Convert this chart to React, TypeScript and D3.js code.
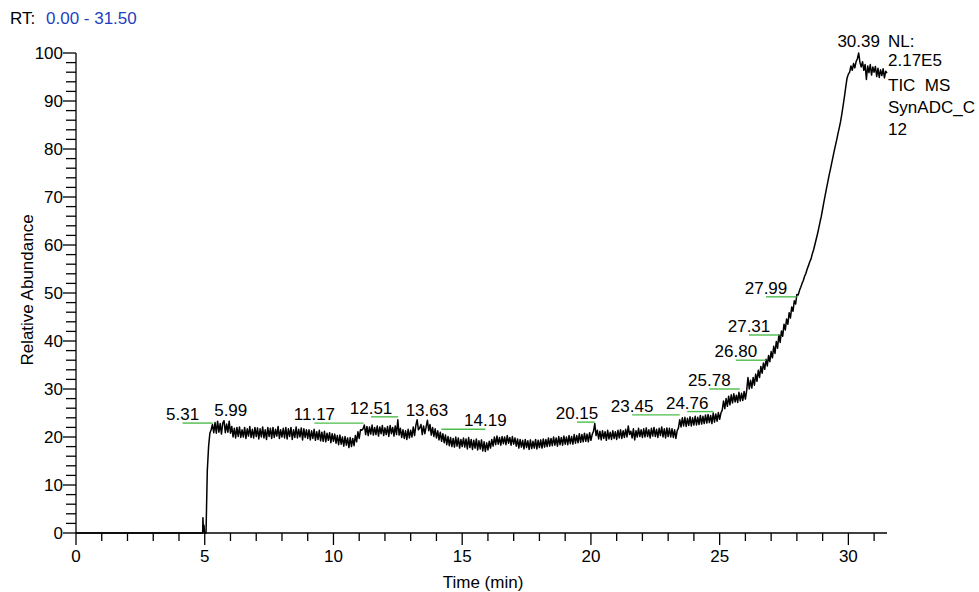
import React from 'react';
import * as d3 from 'd3';

// ---- data ----
const leadTimes = [0, 4.92, 4.93, 4.95, 4.97, 4.99, 5.0];
const leadValues = [0, 0, 3.2, 0.3, 1.6, 0.2, 0];

const gridStep = 0.05;

const segAStart = 5.05; // 5.05 - 13.00
const segA = [
  0, 13, 18, 20.8, 21.5, 22.6, 20.9, 23.0, 20.8, 23.3, 21.0, 22.8, 20.6, 22.9, 23.4, 20.9, 22.7, 21.0, 23.3, 20.8,
  22.2, 20.0, 21.8, 19.8, 22.0, 20.1, 22.1, 19.9, 21.5, 20.0, 22.0, 19.7, 21.7, 20.2, 22.2, 19.9, 21.6, 19.8, 22.0, 20.1,
  21.9, 19.6, 21.7, 20.0, 22.1, 19.8, 21.5, 19.5, 22.0, 20.1, 21.8, 19.7, 22.0, 19.9, 21.6, 20.2, 22.2, 19.7, 21.5, 20.0,
  21.8, 19.8, 22.0, 19.6, 21.7, 20.1, 22.0, 19.5, 21.5, 19.9, 22.1, 19.8, 21.6, 20.0, 21.9, 19.4, 21.7, 19.9, 21.5, 19.7,
  21.5, 19.4, 21.3, 19.7, 21.6, 19.3, 21.1, 19.5, 21.4, 19.2, 21.0, 19.1, 21.2, 19.0, 20.8, 19.3, 20.9, 18.8, 20.7, 19.1,
  20.6, 18.7, 20.3, 18.4, 20.4, 18.5, 20.0, 18.1, 20.1, 18.3, 19.8, 17.8, 19.9, 18.0, 19.7, 18.2, 20.3, 19.0, 21.1, 19.7,
  21.5, 21.4, 21.7, 22.5, 20.5, 22.2, 20.3, 22.1, 20.6, 22.5, 20.4, 22.0, 20.5, 22.3, 20.2, 22.1, 20.7, 22.4, 20.3, 21.9,
  20.5, 22.2, 20.1, 22.4, 20.7, 22.0, 20.2, 22.3, 20.5, 23.6, 20.4, 21.8, 19.9, 21.5, 19.7, 21.3, 19.5, 21.6, 19.8, 21.4,
];

const segBStart = 13.05; // 13.05 - 23.00
const segB = [
  20.0, 22.1, 20.3, 22.4, 23.6, 21.5, 21.9, 22.6, 20.5, 22.3, 20.7, 22.1, 23.5, 21.3, 22.6, 20.4, 22.0, 20.1, 21.7, 19.8,
  21.3, 19.4, 21.0, 19.1, 20.7, 18.8, 20.4, 18.4, 20.1, 18.2, 19.9, 18.0, 19.7, 17.9, 20.0, 18.1, 19.8, 17.7, 19.5, 18.0,
  19.8, 17.9, 19.6, 17.5, 19.9, 17.8, 19.5, 17.4, 19.3, 17.7, 19.6, 17.3, 19.2, 17.5, 19.4, 17.1, 19.0, 17.0, 18.8, 17.3,
  19.1, 17.7, 19.5, 18.1, 20.0, 18.4, 20.2, 18.5, 19.9, 18.3, 20.1, 18.6, 20.0, 18.4, 20.3, 18.7, 19.9, 18.3, 20.1, 18.5,
  19.8, 18.1, 19.6, 17.7, 19.5, 17.9, 19.3, 17.5, 19.5, 17.8, 19.2, 17.4, 19.4, 17.6, 19.1, 17.7, 19.5, 17.5, 19.3, 17.8,
  19.4, 17.7, 19.6, 17.9, 19.5, 18.0, 19.8, 18.1, 19.7, 18.2, 20.0, 18.3, 19.8, 18.1, 20.1, 18.4, 19.9, 18.3, 20.2, 18.5,
  20.0, 18.4, 20.3, 18.6, 20.1, 18.5, 20.5, 18.7, 20.3, 18.8, 20.7, 18.9, 20.5, 19.0, 20.8, 19.1, 20.6, 19.0, 20.9, 19.3,
  20.5, 21.2, 22.8, 20.3, 21.4, 19.6, 21.2, 19.4, 21.3, 19.7, 21.1, 19.3, 21.4, 19.6, 21.0, 19.5, 21.3, 19.7, 21.1, 19.5,
  21.4, 19.8, 21.5, 19.7, 21.3, 19.9, 21.6, 20.0, 22.3, 20.5, 21.2, 19.8, 21.7, 19.4, 21.3, 20.0, 21.8, 20.1, 21.5, 19.9,
  21.7, 20.0, 21.9, 20.1, 21.5, 19.8, 21.8, 20.2, 22.0, 20.1, 21.6, 19.9, 21.8, 20.3, 22.1, 20.0, 21.7, 19.8, 21.9, 20.1,
];

const segCStart = 23.05; // 23.05 - 31.50
const segC = [
  21.8, 20.0, 21.7, 19.9, 21.5, 19.7, 21.3, 21.9, 23.6, 22.1, 24.0, 22.3, 24.1, 22.2, 23.9, 22.4, 24.2, 22.3, 24.0, 22.5,
  24.3, 22.5, 24.1, 22.6, 24.5, 22.7, 24.3, 22.8, 24.6, 22.9, 24.7, 23.0, 24.5, 22.8, 25.0, 23.1, 24.8, 23.3, 25.1, 23.7,
  25.0, 25.6, 27.5, 25.9, 28.0, 26.4, 28.5, 26.7, 28.8, 27.1, 29.0, 27.3, 28.7, 27.2, 29.3, 27.5, 29.1, 27.6, 29.5, 27.9,
  29.7, 32.4, 30.0, 31.8, 30.2, 32.4, 30.8, 33.1, 31.6, 33.9, 32.4, 34.7, 33.3, 35.4, 34.1, 36.2, 34.8, 37.0, 35.7, 37.8,
  36.5, 38.9, 37.4, 39.9, 38.5, 41.3, 39.7, 42.1, 41.0, 43.5, 42.3, 44.6, 43.5, 45.9, 44.8, 47.1, 46.2, 48.4, 47.7, 49.7,
  49.6, 50.5, 51.2, 52.0, 52.6, 53.5, 54.1, 55.0, 55.7, 56.5, 57.1, 58.2, 59.0, 60.1, 61.2, 62.3, 63.5, 64.8, 66.0, 67.5,
  69.0, 70.4, 71.8, 73.1, 74.5, 75.7, 77.0, 78.3, 79.6, 80.8, 82.0, 83.3, 84.5, 85.8, 87.4, 89.2, 91.0, 93.0, 94.8, 95.6,
  96.0, 97.3, 96.4, 97.8, 96.9, 98.2, 98.8, 100, 98.0, 97.1, 98.2, 96.4, 97.6, 94.5, 97.3, 95.9, 97.6, 95.4, 97.1, 96.0,
  97.2, 95.1, 96.8, 94.9, 96.5, 95.3, 96.7, 94.8, 96.2, 95.8,
];

// peak annotations
const peakLabels = ['5.31', '5.99', '11.17', '12.51', '13.63', '14.19', '20.15', '23.45', '24.76', '25.78', '26.80', '27.31', '27.99', '30.39'];
const peakTimes = [5.31, 5.99, 11.17, 12.51, 13.63, 14.19, 20.15, 23.45, 24.76, 25.78, 26.8, 27.31, 27.99, 30.39];
const labelTimes = [4.14, 6.01, 9.26, 11.46, 13.63, 15.9, 19.46, 21.6, 23.74, 24.6, 25.63, 26.14, 26.8, 30.4];
const labelLevels = [22.9, 23.7, 22.9, 24.2, 23.8, 21.6, 23.1, 24.6, 25.3, 30.0, 36.0, 41.25, 49.2, 100.7];

const xMajorTicks = [0, 5, 10, 15, 20, 25, 30];
const yMajorTicks = [0, 10, 20, 30, 40, 50, 60, 70, 80, 90, 100];
const infoLines = ['NL:', '2.17E5', 'TIC  MS', 'SynADC_C', '12'];

// ---- layout ----
const W = 979;
const H = 592;
const FONT = "'Liberation Sans', Arial, sans-serif";
const FS = 17;
const infoY = [47, 66, 91, 113, 135];

export default function App() {
  const x = d3.scaleLinear().domain([0, 31.5]).range([76, 887]);
  const y = d3.scaleLinear().domain([0, 100]).range([533, 53]);

  const pts: [number, number][] = [];
  leadTimes.forEach((t, i) => pts.push([t, leadValues[i]]));
  const addSeg = (start: number, vals: number[]) =>
    vals.forEach((v, i) => pts.push([+(start + i * gridStep).toFixed(3), v]));
  addSeg(segAStart, segA);
  addSeg(segBStart, segB);
  addSeg(segCStart, segC);

  const line = d3
    .line<[number, number]>()
    .x((d) => x(d[0]))
    .y((d) => y(d[1]));

  const xMinor = d3.range(0, 32, 1).filter((t) => t <= 31.5 && t % 5 !== 0);
  const yMinor = d3.range(0, 101, 2).filter((v) => v % 10 !== 0);

  return (
    <svg
      width={W}
      height={H}
      style={{ position: 'absolute', left: 0, top: 0, background: '#fff' }}
      fontFamily={FONT}
      fontSize={FS}
    >
      <rect width={W} height={H} fill="#fff" />
      {/* RT header */}
      <text x={10} y={24} fill="#000">RT:</text>
      <text x={46} y={24} fill="#1f3fbf">0.00 - 31.50</text>

      {/* trace */}
      <path d={line(pts) || ''} fill="none" stroke="#000" strokeWidth={1.5} strokeLinejoin="round" />

      {/* axes */}
      <line x1={x(0)} x2={x(31.5)} y1={y(0)} y2={y(0)} stroke="#000" strokeWidth={1.3} />
      <line x1={x(0)} x2={x(0)} y1={y(0)} y2={y(100)} stroke="#000" strokeWidth={1.3} />

      {xMajorTicks.map((t) => (
        <g key={'xM' + t}>
          <line x1={x(t)} x2={x(t)} y1={y(0)} y2={y(0) + 12} stroke="#000" strokeWidth={1.3} />
          <text x={x(t)} y={562} textAnchor="middle">{t}</text>
        </g>
      ))}
      {xMinor.map((t) => (
        <line key={'xm' + t} x1={x(t)} x2={x(t)} y1={y(0)} y2={y(0) + 8} stroke="#000" strokeWidth={1.3} />
      ))}

      {yMajorTicks.map((v) => (
        <g key={'yM' + v}>
          <line x1={x(0) - 13} x2={x(0)} y1={y(v)} y2={y(v)} stroke="#000" strokeWidth={1.3} />
          <text x={63} y={y(v) + 6} textAnchor="end">{v}</text>
        </g>
      ))}
      {yMinor.map((v) => (
        <line key={'ym' + v} x1={x(0) - 10} x2={x(0)} y1={y(v)} y2={y(v)} stroke="#000" strokeWidth={1.3} />
      ))}

      {/* axis titles */}
      <text x={483} y={588} textAnchor="middle">Time (min)</text>
      <text transform={`translate(33,290) rotate(-90)`} textAnchor="middle">Relative Abundance</text>

      {/* peak labels */}
      {peakLabels.map((lab, i) => {
        const lx = x(labelTimes[i]);
        const px = x(peakTimes[i]);
        const ly = y(labelLevels[i]);
        const showLine = Math.abs(lx - px) > 3;
        return (
          <g key={'pk' + i}>
            {showLine && (
              <line x1={lx} x2={px} y1={ly} y2={ly} stroke="#4dbd4d" strokeWidth={1.4} />
            )}
            <text x={lx} y={ly - 3} textAnchor="middle">{lab}</text>
          </g>
        );
      })}

      {/* info block */}
      {infoLines.map((s, i) => (
        <text key={'info' + i} x={888} y={infoY[i]} style={{ whiteSpace: 'pre' }}>
          {s}
        </text>
      ))}
    </svg>
  );
}
